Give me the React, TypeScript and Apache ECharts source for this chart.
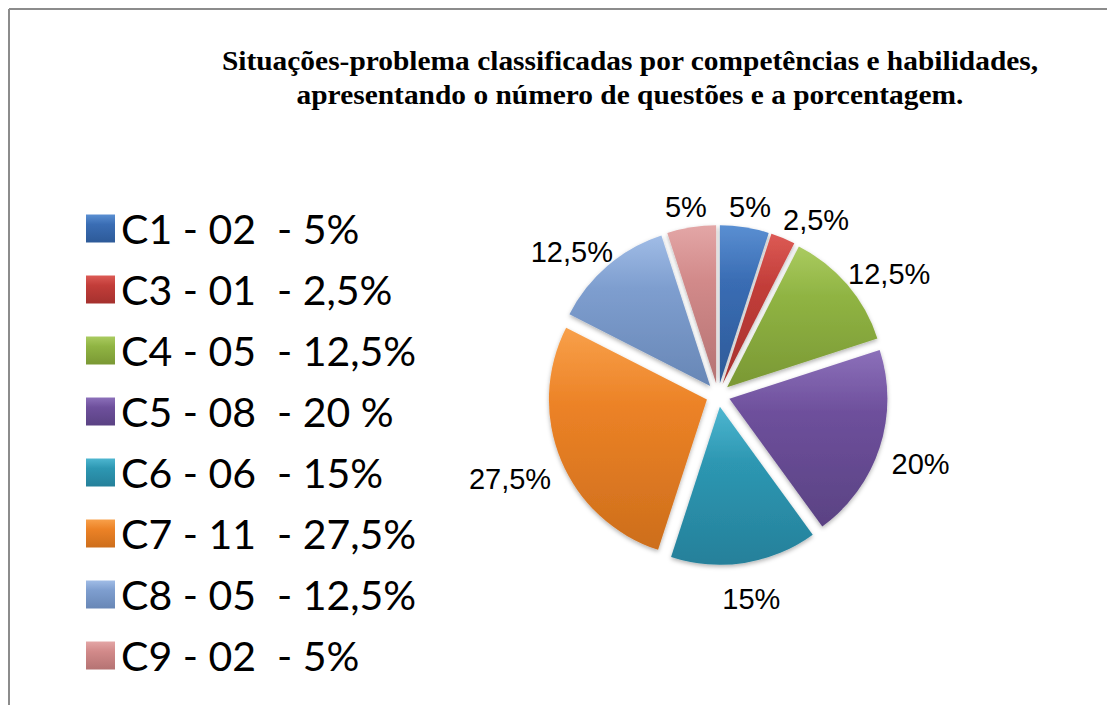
import React, { useEffect, useRef } from "react";
import * as echarts from "echarts";

const titleLines = [
  "Situações-problema classificadas por competências e habilidades,",
  "apresentando o número de questões e a porcentagem.",
];
const categories = ["C1", "C3", "C4", "C5", "C6", "C7", "C8", "C9"];
const questionCounts = [2, 1, 5, 8, 6, 11, 5, 2];
const legendLabels = [
  "C1 - 02\u00a0\u00a0- 5%",
  "C3 - 01\u00a0\u00a0- 2,5%",
  "C4 - 05\u00a0\u00a0- 12,5%",
  "C5 - 08\u00a0\u00a0- 20 %",
  "C6 - 06\u00a0\u00a0- 15%",
  "C7 - 11\u00a0\u00a0- 27,5%",
  "C8 - 05\u00a0\u00a0- 12,5%",
  "C9 - 02\u00a0\u00a0- 5%",
];
const sliceLabels = ["5%", "2,5%", "12,5%", "20%", "15%", "27,5%", "12,5%", "5%"];
const baseColors = ["#3A6DB4", "#C23D39", "#90B443", "#6E509C", "#2D97B2", "#EC8226", "#7E9ECF", "#D28A8A"];
const lightColors = ["#5A8FD2", "#DC5A55", "#AACB60", "#8C70BA", "#4DB6D0", "#F8A04A", "#A0BCE6", "#E3A6A6"];
const darkColors = ["#2D5A98", "#A5312E", "#7A9834", "#5A4283", "#25809A", "#CD6E1C", "#6887B6", "#B57373"];

const PIE_CENTER = [718, 395];
const PIE_RADIUS = 158;
const SELECT_OFFSET = 12;
const LABEL_GAP = 14;
const LABEL_DY = 8;
const LABEL_MARGIN = 12;

export default function App() {
  const ref = useRef<HTMLDivElement>(null);
  useEffect(() => {
    document.body.style.margin = "0";
    const chart = echarts.init(ref.current!, null, { renderer: "svg" });
    const sliceData = categories.map((c, i) => ({
      name: legendLabels[i],
      value: questionCounts[i],
      selected: true,
      itemStyle: {
        color: new echarts.graphic.LinearGradient(0, 0, 0, 1, [
          { offset: 0, color: lightColors[i] },
          { offset: 0.35, color: baseColors[i] },
          { offset: 1, color: darkColors[i] },
        ]),
      },
    }));
    const labelData = categories.map((c, i) => ({
      name: legendLabels[i],
      value: questionCounts[i],
      label: { formatter: sliceLabels[i] },
    }));
    let placed: { x: number; y: number; w: number; h: number }[] = [];
    chart.setOption({
      animation: false,
      backgroundColor: "#ffffff",
      graphic: [
        {
          type: "line",
          shape: { x1: 9, y1: 9, x2: 1107, y2: 9 },
          style: { stroke: "#8c8c8c", lineWidth: 2 },
          silent: true,
        },
        {
          type: "line",
          shape: { x1: 9, y1: 9, x2: 9, y2: 705 },
          style: { stroke: "#8c8c8c", lineWidth: 2 },
          silent: true,
        },
        {
          type: "text",
          x: 630,
          y: 78,
          scaleX: 1.09,
          style: {
            text: titleLines.join("\n"),
            fontFamily: "Liberation Serif",
            fontWeight: "bold",
            fontSize: 27,
            lineHeight: 34,
            fill: "#000",
            textAlign: "center",
            textVerticalAlign: "middle",
          },
          silent: true,
        },
      ],
      legend: {
        orient: "vertical",
        left: 81,
        top: 203,
        icon: "rect",
        itemWidth: 29,
        itemHeight: 28,
        itemGap: 20,
        selectedMode: false,
        textStyle: {
          fontFamily: "Lato",
          fontSize: 41,
          lineHeight: 40,
          color: "#000",
          padding: [0, 0, 0, 1],
        },
        data: legendLabels,
      },
      series: [
        {
          type: "pie",
          center: PIE_CENTER,
          radius: PIE_RADIUS,
          startAngle: 90,
          clockwise: true,
          selectedMode: "multiple",
          selectedOffset: SELECT_OFFSET,
          label: { show: false },
          labelLine: { show: false },
          emphasis: { disabled: true },
          itemStyle: {
            shadowBlur: 4,
            shadowColor: "rgba(0,0,0,0.3)",
            shadowOffsetY: 2,
          },
          data: sliceData,
        },
        {
          type: "pie",
          center: PIE_CENTER,
          radius: PIE_RADIUS + SELECT_OFFSET,
          startAngle: 90,
          clockwise: true,
          silent: true,
          z: 1,
          avoidLabelOverlap: false,
          itemStyle: { color: "rgba(0,0,0,0)" },
          emphasis: { disabled: true },
          label: {
            show: true,
            position: "outside",
            fontFamily: "Liberation Sans",
            fontSize: 29,
            color: "#000",
          },
          labelLine: { show: true, length: 8, length2: 0, lineStyle: { opacity: 0, width: 0 } },
          labelLayout: (params: any) => {
            const pts = params.labelLinePoints;
            if (!pts) return {};
            if (params.dataIndex === 0) placed = [];
            const p0 = pts[0];
            const p1 = pts[1];
            let ux = p1[0] - p0[0];
            let uy = p1[1] - p0[1];
            const len = Math.hypot(ux, uy) || 1;
            ux /= len;
            uy /= len;
            const w = params.labelRect.width;
            const h = params.labelRect.height;
            let x = p0[0] + ux * LABEL_GAP + (ux * w) / 2;
            const y = p0[1] + uy * LABEL_GAP + (uy * h) / 2 + LABEL_DY;
            const dir = ux >= 0 ? 1 : -1;
            for (const r of placed) {
              const overlapY = Math.abs(r.y - y) < (r.h + h) / 2;
              const needX = (r.w + w) / 2 + LABEL_MARGIN;
              if (overlapY && Math.abs(r.x - x) < needX) {
                x = r.x + dir * needX;
              }
            }
            placed.push({ x, y, w, h });
            return { x, y, align: "center", verticalAlign: "middle" };
          },
          data: labelData,
        },
      ],
    });
    return () => chart.dispose();
  }, []);
  return <div ref={ref} style={{ width: 1107, height: 705 }} />;
}
